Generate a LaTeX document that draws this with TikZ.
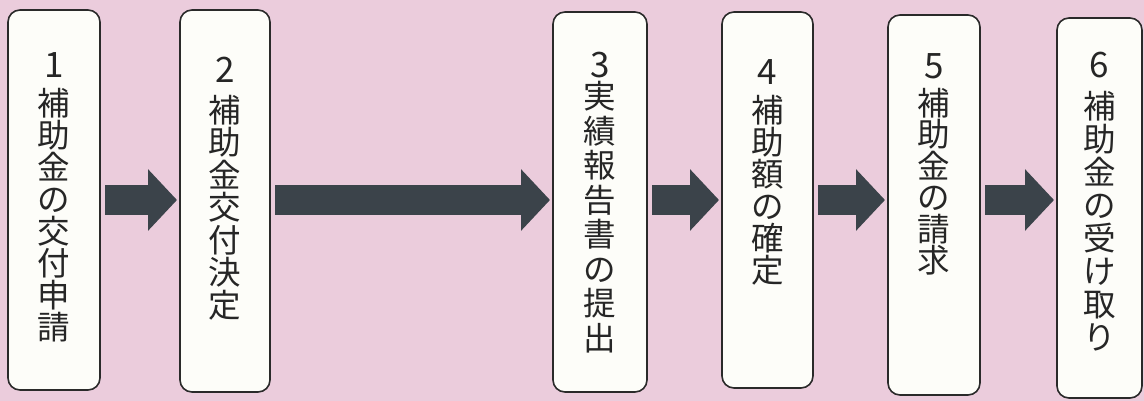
\documentclass[tikz,border=0pt]{standalone}
\usepackage{fontspec}
\newfontfamily\cjk{Noto Sans CJK JP}
\usetikzlibrary{arrows.meta}
\definecolor{bgpink}{HTML}{EBCCDC}
\definecolor{boxfill}{HTML}{FDFDF9}
\definecolor{boxline}{HTML}{2A2A2A}
\definecolor{arrowcol}{HTML}{3B434A}
\tikzset{
  stepbox/.style={draw=boxline, line width=1.6pt, fill=boxfill, rounded corners=12pt,
    inner sep=0pt, outer sep=0pt},
  num/.style={inner sep=0pt, font=\cjk\fontsize{35}{35}\selectfont, text=black!85},
  vtext/.style={inner sep=0pt, anchor=north, align=center, text=black!85,
    font=\cjk\fontsize{32.5}{#1}\selectfont},
  flow/.style={draw=arrowcol, line width=30pt, shorten <=5pt, shorten >=3pt,
    -{Triangle[length=29pt 0 0, width=60pt 0 0]}},
}
\begin{document}
\begin{tikzpicture}[x=1pt, y=-1pt]
\fill[bgpink] (0,0) rectangle (1144,401);
\useasboundingbox (0,0) rectangle (1144,401);
\coordinate (axis) at (0,200);
% boxes
\node[stepbox, minimum width=92pt, minimum height=380pt] (b1) at (54,200) {};
\node[stepbox, minimum width=90pt, minimum height=382pt] (b2) at (225,201) {};
\node[stepbox, minimum width=94pt, minimum height=380pt] (b3) at (600,202) {};
\node[stepbox, minimum width=91pt, minimum height=376pt] (b4) at (767.5,200) {};
\node[stepbox, minimum width=92pt, minimum height=380pt] (b5) at (934,205) {};
\node[stepbox, minimum width=85pt, minimum height=380pt] (b6) at (1099.5,208) {};
% numbers
\node[num] (n1) at (54,65) {1};
\node[num] (n2) at (225,70) {2};
\node[num] (n3) at (600,65) {3};
\node[num] (n4) at (767.5,72) {4};
\node[num] (n5) at (934,66) {5};
\node[num] (n6) at (1099.5,65) {6};
% labels
\node[vtext=32] (t1) at (54,88) {補\\助\\金\\の\\交\\付\\申\\請};
\node[vtext=32.5] (t2) at (225,95) {補\\助\\金\\交\\付\\決\\定};
\node[vtext=34.5] (t3) at (600,81) {実\\績\\報\\告\\書\\の\\提\\出};
\node[vtext=32] (t4) at (767.5,95) {補\\助\\額\\の\\確\\定};
\node[vtext=31.5] (t5) at (934,88) {補\\助\\金\\の\\請\\求};
\node[vtext=33] (t6) at (1099.5,91) {補\\助\\金\\の\\受\\け\\取\\り};
% arrows
\draw[flow] (b1.east |- axis) -- (b2.west |- axis);
\draw[flow] (b2.east |- axis) -- (b3.west |- axis);
\draw[flow] (b3.east |- axis) -- (b4.west |- axis);
\draw[flow] (b4.east |- axis) -- (b5.west |- axis);
\draw[flow] (b5.east |- axis) -- (b6.west |- axis);
\end{tikzpicture}
\end{document}
